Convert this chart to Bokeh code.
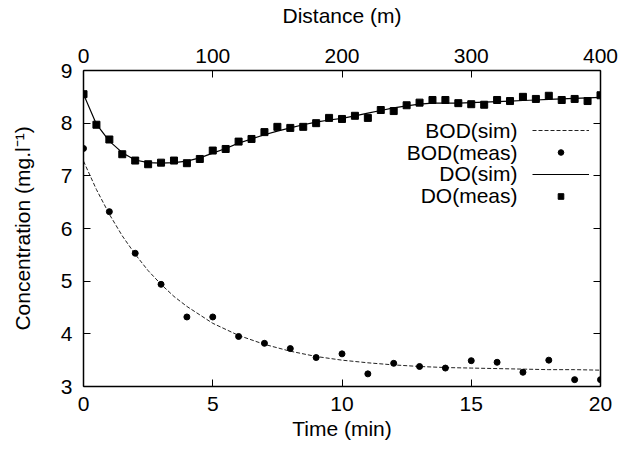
from bokeh.plotting import figure
from bokeh.models import (Range1d, LinearAxis, Legend, LegendItem, FixedTicker,
                          CustomLabelingPolicy, Label)
from bokeh.embed import file_html
from bokeh.resources import INLINE

# BOD measured vs time (min)
bod_t = list(range(0, 21))
bod_meas = [7.52, 6.32, 5.53, 4.94, 4.32, 4.32, 3.95, 3.82, 3.72, 3.55, 3.62,
            3.24, 3.44, 3.38, 3.35, 3.49, 3.46, 3.27, 3.50, 3.13, 3.13]
# BOD simulated vs time (min)
bod_sim_t = [0, 0.5, 1, 1.5, 2, 2.5, 3, 3.5, 4, 5, 6, 7, 8, 9, 10, 11, 12, 13, 14,
             15, 16, 17, 18, 19, 20]
bod_sim = [7.28, 6.74, 6.27, 5.86, 5.51, 5.20, 4.94, 4.71, 4.52, 4.20, 3.97, 3.80,
           3.67, 3.57, 3.50, 3.45, 3.41, 3.38, 3.36, 3.35, 3.34, 3.33, 3.32, 3.32, 3.31]
# DO vs distance (m)
do_d = list(range(0, 410, 10))
do_meas = [8.55, 7.97, 7.69, 7.41, 7.29, 7.22, 7.25, 7.29, 7.24, 7.32, 7.48,
           7.51, 7.65, 7.70, 7.83, 7.93, 7.91, 7.93, 8.00, 8.10, 8.08, 8.14,
           8.10, 8.25, 8.23, 8.34, 8.39, 8.44, 8.44, 8.38, 8.36, 8.35, 8.44,
           8.42, 8.50, 8.46, 8.52, 8.44, 8.46, 8.42, 8.53]
do_sim = [8.55, 7.98, 7.66, 7.44, 7.30, 7.25, 7.24, 7.25, 7.28, 7.34, 7.43,
          7.52, 7.62, 7.70, 7.78, 7.85, 7.91, 7.97, 8.02, 8.06, 8.09, 8.14,
          8.19, 8.24, 8.29, 8.33, 8.36, 8.38, 8.38, 8.38, 8.39, 8.40, 8.41,
          8.42, 8.43, 8.44, 8.45, 8.46, 8.47, 8.48, 8.49]

time_ticks = [0, 5, 10, 15, 20]
dist_ticks = [0, 100, 200, 300, 400]
conc_ticks = [3, 4, 5, 6, 7, 8, 9]
legend_labels = ["BOD(sim)", "BOD(meas)", "DO(sim)", "DO(meas)"]

FONT = "Liberation Sans"
FS = "21px"

p = figure(width=625, height=458, output_backend="svg", toolbar_location=None,
           x_range=Range1d(0, 20), y_range=Range1d(3, 9),
           min_border_left=83, min_border_right=22, min_border_top=67,
           min_border_bottom=72)
p.extra_x_ranges = {"dist": Range1d(0, 400)}
p.grid.visible = False
p.outline_line_color = None
p.background_fill_color = "white"
p.border_fill_color = "white"

def style_axis(ax, ticks, label_standoff=10, axis_standoff=8):
    ax.ticker = FixedTicker(ticks=ticks)
    ax.major_tick_in = 7
    ax.major_tick_out = 0
    ax.minor_tick_line_color = None
    ax.axis_line_color = "black"
    ax.axis_line_width = 1.5
    ax.major_tick_line_color = "black"
    ax.major_label_text_font = FONT
    ax.major_label_text_font_size = FS
    ax.major_label_text_color = "black"
    ax.axis_label_text_font = FONT
    ax.axis_label_text_font_size = FS
    ax.axis_label_text_font_style = "normal"
    ax.axis_label_text_color = "black"
    ax.major_label_standoff = label_standoff
    ax.axis_label_standoff = axis_standoff

style_axis(p.xaxis[0], time_ticks, 10, 3)
p.xaxis[0].axis_label = "Time (min)"
style_axis(p.yaxis[0], conc_ticks, 11, 24)
p.yaxis[0].axis_label = "Concentration (mg.l\u207b\u00b9)"

top = LinearAxis(x_range_name="dist", axis_label="Distance (m)")
style_axis(top, dist_ticks, 8, 19)
p.add_layout(top, "above")
right = LinearAxis()
style_axis(right, conc_ticks)
right.major_label_policy = CustomLabelingPolicy(
    code="return new indices.constructor(indices.size, 0)")
p.add_layout(right, "right")

r_bsim = p.line(bod_sim_t, bod_sim, line_color="#222222", line_width=1, line_dash="4 2")
r_bmeas = p.scatter(bod_t, bod_meas, marker="circle", size=6, color="black")
r_dsim = p.line(do_d, do_sim, x_range_name="dist", line_color="black", line_width=1.2)
r_dmeas = p.scatter(do_d, do_meas, x_range_name="dist", marker="square", size=7, color="black")

# legend samples (glyphs only); texts are right-aligned labels to their left
items = [LegendItem(label="", renderers=[r]) for r in (r_bsim, r_bmeas, r_dsim, r_dmeas)]
leg = Legend(items=items, location=(449, 180), glyph_width=57, glyph_height=14,
             label_height=20, label_width=0, label_standoff=0, spacing=2,
             padding=0, margin=0, background_fill_alpha=0, border_line_color=None)
p.add_layout(leg, "center")

for i, txt in enumerate(legend_labels):
    p.add_layout(Label(x=434, y=256 - i * 21.7, x_units="screen", y_units="screen",
                       text=txt, text_align="right", text_baseline="middle",
                       text_font=FONT, text_font_size=FS, text_color="black"))

open("out.html", "w").write(file_html(p, INLINE))
